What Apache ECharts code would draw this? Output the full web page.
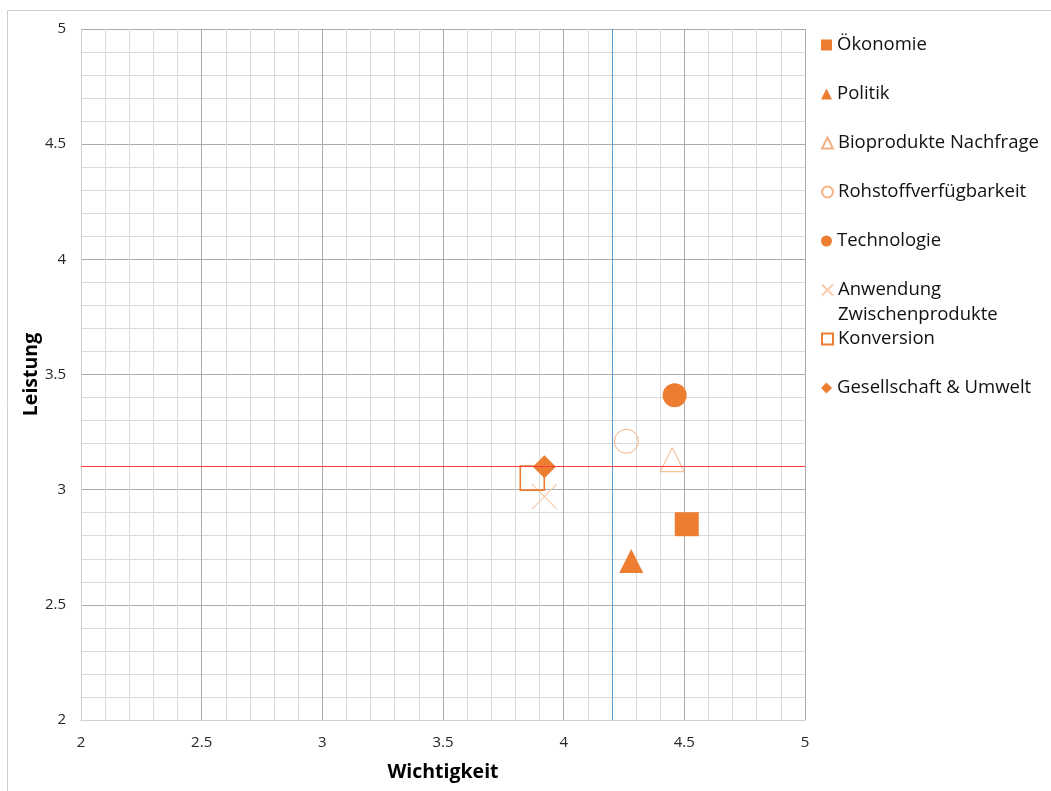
<!DOCTYPE html>
<html>
<head>
<meta charset="utf-8">
<script src="https://cdn.jsdelivr.net/npm/echarts@6/dist/echarts.min.js"></script>
<style>
  html, body { margin: 0; padding: 0; background: #ffffff; }
  #chart { width: 1051px; height: 791px; }
</style>
</head>
<body>
<div id="chart"></div>
<script>
// Factor names (legend order)
const factorNames = [
  'Ökonomie',
  'Politik',
  'Bioprodukte Nachfrage',
  'Rohstoffverfügbarkeit',
  'Technologie',
  'Anwendung Zwischenprodukte',
  'Konversion',
  'Gesellschaft & Umwelt'
];
// Importance (x) and performance (y) per factor
const wichtigkeit = [4.51, 4.28, 4.45, 4.26, 4.46, 3.92, 3.87, 3.92];
const leistung    = [2.85, 2.69, 3.13, 3.21, 3.41, 2.97, 3.05, 3.10];
// Mean reference lines
const meanWichtigkeit = 4.2;
const meanLeistung = 3.1;

const FONT = '"Open Sans", "Liberation Sans", sans-serif';
const ORANGE = '#ED7D31';
const LIGHT = '#F4B183';
const PALE = '#F8CBAD';

// Marker style for each factor
const markerStyles = [
  { symbol: 'rect', symbolSize: 24, itemStyle: { color: ORANGE, opacity: 1 } },
  { symbol: 'triangle', symbolSize: 24, itemStyle: { color: ORANGE, opacity: 1 } },
  { symbol: 'triangle', symbolSize: 24, itemStyle: { color: 'rgba(0,0,0,0)', borderColor: LIGHT, borderWidth: 1, opacity: 1 } },
  { symbol: 'circle', symbolSize: 24, itemStyle: { color: 'rgba(0,0,0,0)', borderColor: LIGHT, borderWidth: 1, opacity: 1 } },
  { symbol: 'circle', symbolSize: 24, itemStyle: { color: ORANGE, opacity: 1 } },
  { symbol: 'path://M0,0L24,24M24,0L0,24', symbolSize: 25, itemStyle: { color: 'rgba(0,0,0,0)', borderColor: PALE, borderWidth: 1.2, opacity: 1 } },
  { symbol: 'rect', symbolSize: 24, itemStyle: { color: 'rgba(0,0,0,0)', borderColor: ORANGE, borderWidth: 1.6, opacity: 1 } },
  { symbol: 'diamond', symbolSize: 23, itemStyle: { color: ORANGE, opacity: 1 } }
];

// Legend rows (icon centre y) and the text shown for each entry
const legendRowY = [44, 93, 142, 191, 240, 289, 338, 387];
const legendText = {
  'Anwendung Zwischenprodukte': '\nAnwendung\nZwischenprodukte'
};

const series = factorNames.map((name, i) => Object.assign({
  name: name,
  type: 'scatter',
  z: 3,
  data: [[wichtigkeit[i], leistung[i]]],
  emphasis: { disabled: true }
}, markerStyles[i]));

// Reference lines at the means
series.push({
  name: 'Mittelwerte',
  type: 'scatter',
  z: 2,
  data: [],
  markLine: {
    silent: true,
    symbol: ['none', 'none'],
    label: { show: false },
    lineStyle: { type: 'solid', width: 1 },
    data: [
      { xAxis: meanWichtigkeit, lineStyle: { color: '#5B9BD5', type: 'solid', width: 1 } },
      { yAxis: meanLeistung, lineStyle: { color: '#FF3B3B', type: 'solid', width: 1 } }
    ]
  }
});

const legends = factorNames.map((name, i) => {
  const lineH = 25;
  const txt = legendText[name] || name;
  const lines = txt.split('\n').length;
  return {
    data: [name],
    orient: 'vertical',
    left: 821,
    top: legendRowY[i] + 1 - (lines * lineH) / 2,
    padding: 0,
    itemWidth: 11,
    itemHeight: 11,
    selectedMode: false,
    formatter: () => txt,
    textStyle: { fontFamily: FONT, fontSize: 18.5, color: '#111', lineHeight: lineH }
  };
});

const chart = echarts.init(document.getElementById('chart'), null, { renderer: 'canvas' });
chart.setOption({
  animation: false,
  backgroundColor: '#ffffff',
  grid: { left: 81, right: 246, top: 29, bottom: 71, containLabel: false },
  graphic: [{
    type: 'rect',
    shape: { x: 7.5, y: 10.5, width: 1100, height: 900 },
    style: { fill: 'none', stroke: '#CFCFCF', lineWidth: 1 },
    silent: true
  }],
  xAxis: {
    type: 'value',
    min: 2, max: 5, interval: 0.5,
    name: 'Wichtigkeit',
    nameLocation: 'middle',
    nameGap: 42,
    nameTextStyle: { fontFamily: FONT, fontSize: 19.5, fontWeight: 'bold', color: '#000' },
    axisLine: { show: true, lineStyle: { color: '#D0D0D0' } },
    axisTick: { show: false },
    axisLabel: { fontFamily: FONT, fontSize: 15, color: '#262626', margin: 15 },
    splitLine: { show: true, lineStyle: { color: '#ABABAB' } },
    minorTick: { show: false, splitNumber: 5 },
    minorSplitLine: { show: true, lineStyle: { color: '#DADADA' } }
  },
  yAxis: {
    type: 'value',
    min: 2, max: 5, interval: 0.5,
    name: 'Leistung',
    nameLocation: 'middle',
    nameGap: 40,
    nameMoveOverlap: false,
    nameTextStyle: { fontFamily: FONT, fontSize: 19.5, fontWeight: 'bold', color: '#000' },
    axisLine: { show: true, lineStyle: { color: '#D0D0D0' } },
    axisTick: { show: false },
    axisLabel: { fontFamily: FONT, fontSize: 15, color: '#262626', margin: 15 },
    splitLine: { show: true, lineStyle: { color: '#ABABAB' } },
    minorTick: { show: false, splitNumber: 5 },
    minorSplitLine: { show: true, lineStyle: { color: '#DADADA' } }
  },
  legend: legends,
  series: series
});
</script>
</body>
</html>
